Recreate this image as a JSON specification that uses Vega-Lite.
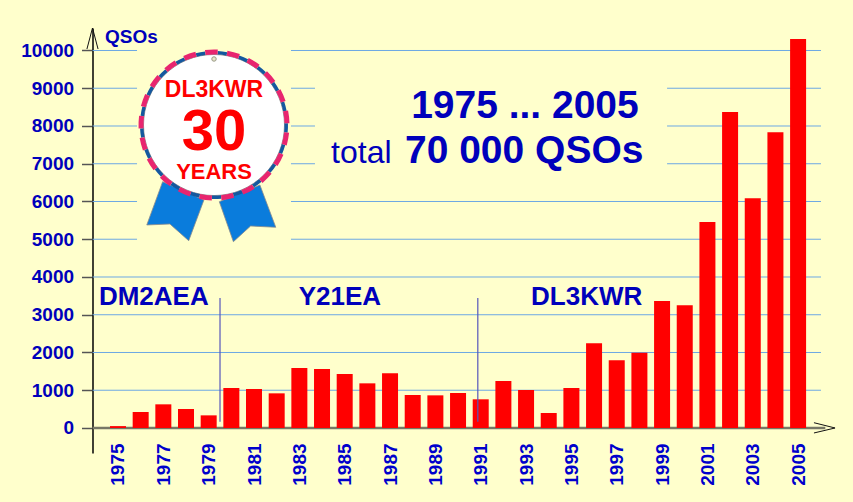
{
"$schema":"https://vega.github.io/schema/vega-lite/v6.json",
"width":748.11,"height":425,"autosize":"none",
"padding":{"left":86.94,"top":28,"right":18,"bottom":49},
"background":"#FFFFCC",
"config":{"view":{"stroke":null},"text":{"font":"Liberation Sans"}},
"datasets":{
"bars":[{"year":1975,"qso":50},{"year":1976,"qso":424},{"year":1977,"qso":627},{"year":1978,"qso":503},{"year":1979,"qso":335},{"year":1980,"qso":1060},{"year":1981,"qso":1033},{"year":1982,"qso":918},{"year":1983,"qso":1590},{"year":1984,"qso":1563},{"year":1985,"qso":1430},{"year":1986,"qso":1183},{"year":1987,"qso":1448},{"year":1988,"qso":874},{"year":1989,"qso":865},{"year":1990,"qso":927},{"year":1991,"qso":760},{"year":1992,"qso":1245},{"year":1993,"qso":1007},{"year":1994,"qso":397},{"year":1995,"qso":1060},{"year":1996,"qso":2243},{"year":1997,"qso":1792},{"year":1998,"qso":1996},{"year":1999,"qso":3364},{"year":2000,"qso":3250},{"year":2001,"qso":5457},{"year":2002,"qso":8370},{"year":2003,"qso":6084},{"year":2004,"qso":7832},{"year":2005,"qso":10305}],
"grid":[{"a":1973.875,"b":1975.84,"q":10000},{"a":1982.63,"b":2006.01,"q":10000},{"a":1973.875,"b":1975.84,"q":9000},{"a":1982.63,"b":1983.69,"q":9000},{"a":1999.22,"b":2006.01,"q":9000},{"a":1973.875,"b":1975.84,"q":8000},{"a":1982.63,"b":1983.69,"q":8000},{"a":1999.22,"b":2006.01,"q":8000},{"a":1973.875,"b":1975.84,"q":7000},{"a":1982.63,"b":1983.69,"q":7000},{"a":1999.22,"b":2006.01,"q":7000},{"a":1973.875,"b":1975.84,"q":6000},{"a":1982.63,"b":2006.01,"q":6000},{"a":1973.875,"b":1975.84,"q":5000},{"a":1982.63,"b":2006.01,"q":5000},{"a":1973.875,"b":2006.01,"q":4000},{"a":1973.875,"b":2006.01,"q":3000},{"a":1973.875,"b":2006.01,"q":2000},{"a":1973.875,"b":2006.01,"q":1000}],
"ribbons":[{"r":"L","i":0,"x":1976.97,"y":6525},{"r":"L","i":1,"x":1976.27,"y":5378},{"r":"L","i":2,"x":1977.29,"y":5404},{"r":"L","i":3,"x":1978.12,"y":4962},{"r":"L","i":4,"x":1978.79,"y":6040},{"r":"L","i":5,"x":1976.97,"y":6525},{"r":"R","i":0,"x":1979.47,"y":5995},{"r":"R","i":1,"x":1980.09,"y":4935},{"r":"R","i":2,"x":1980.85,"y":5351},{"r":"R","i":3,"x":1981.96,"y":5317},{"r":"R","i":4,"x":1981.26,"y":6437},{"r":"R","i":5,"x":1979.47,"y":5995}],
"pink":[{"a0":-0.12,"a1":0.05},{"a0":0.179,"a1":0.349},{"a0":0.478,"a1":0.648},{"a0":0.778,"a1":0.948},{"a0":1.077,"a1":1.247},{"a0":1.376,"a1":1.546},{"a0":1.675,"a1":1.845},{"a0":1.974,"a1":2.144},{"a0":2.274,"a1":2.444},{"a0":2.573,"a1":2.743},{"a0":2.872,"a1":3.042},{"a0":3.171,"a1":3.341},{"a0":3.47,"a1":3.64},{"a0":3.77,"a1":3.94},{"a0":4.069,"a1":4.239},{"a0":4.368,"a1":4.538},{"a0":4.667,"a1":4.837},{"a0":4.966,"a1":5.136},{"a0":5.266,"a1":5.436},{"a0":5.565,"a1":5.735},{"a0":5.864,"a1":6.034}],
"blue":[{"a0":0.05,"a1":0.179},{"a0":0.349,"a1":0.478},{"a0":0.648,"a1":0.778},{"a0":0.948,"a1":1.077},{"a0":1.247,"a1":1.376},{"a0":1.546,"a1":1.675},{"a0":1.845,"a1":1.974},{"a0":2.144,"a1":2.274},{"a0":2.444,"a1":2.573},{"a0":2.743,"a1":2.872},{"a0":3.042,"a1":3.171},{"a0":3.341,"a1":3.47},{"a0":3.64,"a1":3.77},{"a0":3.94,"a1":4.069},{"a0":4.239,"a1":4.368},{"a0":4.538,"a1":4.667},{"a0":4.837,"a1":4.966},{"a0":5.136,"a1":5.266},{"a0":5.436,"a1":5.565},{"a0":5.735,"a1":5.864},{"a0":6.034,"a1":6.163}],
"arrows":[{"r":"up","i":0,"x":1973.63,"y":10040},{"r":"up","i":1,"x":1973.875,"y":10596},{"r":"up","i":2,"x":1974.12,"y":10040},{"r":"right","i":0,"x":2005.7,"y":140},{"r":"right","i":1,"x":2006.63,"y":0},{"r":"right","i":2,"x":2005.7,"y":-132}],
"dividers":[{"x":1979.5,"y":3444,"y2":167},{"x":1990.87,"y":3444,"y2":167}],
"one":[{"k":1}]
},
"layer":[
{"data":{"name":"grid"},"mark":{"type":"rule","color":"#6CA8E4","strokeWidth":1},
 "encoding":{"x":{"field":"a","type":"quantitative","scale":{"domain":[1973.63,2006.63],"nice":false,"zero":false,"padding":0},"title":null,
   "axis":{"values":[1975,1977,1979,1981,1983,1985,1987,1989,1991,1993,1995,1997,1999,2001,2003,2005],"format":"d","labelAngle":-90,"labelAlign":"right","labelBaseline":"middle","labelFont":"Liberation Sans","labelFontWeight":"bold","labelFontSize":19,"labelColor":"#0000CC","labelPadding":-10,"domain":false,"ticks":false,"grid":false,"labelOverlap":false,"labelBound":false,"labelFlush":false}},
  "x2":{"field":"b"},
  "y":{"field":"q","type":"quantitative","scale":{"domain":[-662.25,10596],"nice":false,"zero":false},"title":null,
   "axis":{"values":[0,1000,2000,3000,4000,5000,6000,7000,8000,9000,10000],"format":"d","offset":-5.56,"tickSize":11,"tickColor":"#555555","tickWidth":1.5,"labelFont":"Liberation Sans","labelFontWeight":"bold","labelFontSize":19,"labelColor":"#0000BB","labelPadding":8,"domainColor":"#000000","domainWidth":1.5,"grid":false,"labelOverlap":false,"labelBound":false}}}},
{"data":{"name":"one"},"mark":{"type":"rule","color":"#777766","strokeWidth":2.5},
 "encoding":{"x":{"datum":1973.875,"type":"quantitative","title":null},"x2":{"datum":2006.2},"y":{"datum":0,"type":"quantitative","title":null}}},
{"data":{"name":"bars"},"mark":{"type":"bar","color":"#FF0000","size":16},
 "encoding":{"x":{"field":"year","type":"quantitative","title":null},"y":{"field":"qso","type":"quantitative","title":null}}},
{"data":{"name":"dividers"},"mark":{"type":"rule","color":"#5555BB","opacity":0.8,"strokeWidth":1.5},
 "encoding":{"x":{"field":"x","type":"quantitative","title":null},"y":{"field":"y","type":"quantitative","title":null},"y2":{"field":"y2"}}},
{"data":{"name":"ribbons"},"mark":{"type":"line","fill":"#0A7CDC","stroke":"#8a8a8a","strokeWidth":0.8,"filled":false},
 "encoding":{"x":{"field":"x","type":"quantitative","title":null},"y":{"field":"y","type":"quantitative","title":null},"detail":{"field":"r"},"order":{"field":"i"}}},
{"data":{"name":"one"},"mark":{"type":"point","shape":"circle","filled":true,"fill":"#FFFFFF","stroke":"#999999","strokeWidth":1,"size":19881,"opacity":1},
 "encoding":{"x":{"datum":1979.235,"type":"quantitative","title":null},"y":{"datum":8026,"type":"quantitative","title":null}}},
{"data":{"name":"blue"},"mark":{"type":"arc","color":"#14589F","innerRadius":70.5,"outerRadius":74},
 "encoding":{"x":{"datum":1979.235,"type":"quantitative","title":null},"y":{"datum":8026,"type":"quantitative","title":null},"theta":{"field":"a0","type":"quantitative","scale":null},"theta2":{"field":"a1"}}},
{"data":{"name":"pink"},"mark":{"type":"arc","color":"#E8256F","innerRadius":70.5,"outerRadius":75.5},
 "encoding":{"x":{"datum":1979.235,"type":"quantitative","title":null},"y":{"datum":8026,"type":"quantitative","title":null},"theta":{"field":"a0","type":"quantitative","scale":null},"theta2":{"field":"a1"}}},
{"data":{"name":"one"},"mark":{"type":"point","shape":"circle","filled":true,"fill":"#E8E8C8","stroke":"#999988","strokeWidth":1,"size":20,"opacity":1},
 "encoding":{"x":{"datum":1979.235,"type":"quantitative","title":null},"y":{"datum":9775,"type":"quantitative","title":null}}},
{"data":{"name":"arrows"},"mark":{"type":"line","color":"#111111","strokeWidth":1},
 "encoding":{"x":{"field":"x","type":"quantitative","title":null},"y":{"field":"y","type":"quantitative","title":null},"detail":{"field":"r"},"order":{"field":"i"}}},
{"data":{"name":"one"},"mark":{"type":"text","font":"Liberation Sans","fontWeight":"bold","fontSize":19,"color":"#0000BB","align":"left","baseline":"alphabetic"},
 "encoding":{"x":{"datum":1974.43,"type":"quantitative","title":null},"y":{"datum":10199,"type":"quantitative","title":null},"text":{"value":"QSOs"}}},
{"data":{"name":"one"},"mark":{"type":"text","font":"Liberation Sans","fontWeight":"bold","fontSize":26,"color":"#0000BB","align":"left","baseline":"alphabetic"},
 "encoding":{"x":{"datum":1974.16,"type":"quantitative","title":null},"y":{"datum":3258,"type":"quantitative","title":null},"text":{"value":"DM2AEA"}}},
{"data":{"name":"one"},"mark":{"type":"text","font":"Liberation Sans","fontWeight":"bold","fontSize":26,"color":"#0000BB","align":"center","baseline":"alphabetic"},
 "encoding":{"x":{"datum":1984.79,"type":"quantitative","title":null},"y":{"datum":3258,"type":"quantitative","title":null},"text":{"value":"Y21EA"}}},
{"data":{"name":"one"},"mark":{"type":"text","font":"Liberation Sans","fontWeight":"bold","fontSize":26,"color":"#0000BB","align":"left","baseline":"alphabetic"},
 "encoding":{"x":{"datum":1993.22,"type":"quantitative","title":null},"y":{"datum":3258,"type":"quantitative","title":null},"text":{"value":"DL3KWR"}}},
{"data":{"name":"one"},"mark":{"type":"text","font":"Liberation Sans","fontWeight":"bold","fontSize":39,"color":"#0000BB","align":"center","baseline":"alphabetic"},
 "encoding":{"x":{"datum":1992.95,"type":"quantitative","title":null},"y":{"datum":8212,"type":"quantitative","title":null},"text":{"value":"1975 ... 2005"}}},
{"data":{"name":"one"},"mark":{"type":"text","font":"Liberation Sans","fontSize":32,"color":"#0000BB","align":"left","baseline":"alphabetic"},
 "encoding":{"x":{"datum":1984.40,"type":"quantitative","title":null},"y":{"datum":7020,"type":"quantitative","title":null},"text":{"value":"total"}}},
{"data":{"name":"one"},"mark":{"type":"text","font":"Liberation Sans","fontWeight":"bold","fontSize":39,"color":"#0000BB","align":"left","baseline":"alphabetic"},
 "encoding":{"x":{"datum":1987.66,"type":"quantitative","title":null},"y":{"datum":7020,"type":"quantitative","title":null},"text":{"value":"70 000 QSOs"}}},
{"data":{"name":"one"},"mark":{"type":"text","font":"Liberation Sans","fontWeight":"bold","fontSize":23,"color":"#FF0000","align":"center","baseline":"alphabetic"},
 "encoding":{"x":{"datum":1979.235,"type":"quantitative","title":null},"y":{"datum":8768,"type":"quantitative","title":null},"text":{"value":"DL3KWR"}}},
{"data":{"name":"one"},"mark":{"type":"text","font":"Liberation Sans","fontWeight":"bold","fontSize":58,"color":"#FF0000","align":"center","baseline":"alphabetic"},
 "encoding":{"x":{"datum":1979.235,"type":"quantitative","title":null},"y":{"datum":7364,"type":"quantitative","title":null},"text":{"value":"30"}}},
{"data":{"name":"one"},"mark":{"type":"text","font":"Liberation Sans","fontWeight":"bold","fontSize":22,"color":"#FF0000","align":"center","baseline":"alphabetic"},
 "encoding":{"x":{"datum":1979.235,"type":"quantitative","title":null},"y":{"datum":6596,"type":"quantitative","title":null},"text":{"value":"YEARS"}}}
]
}
